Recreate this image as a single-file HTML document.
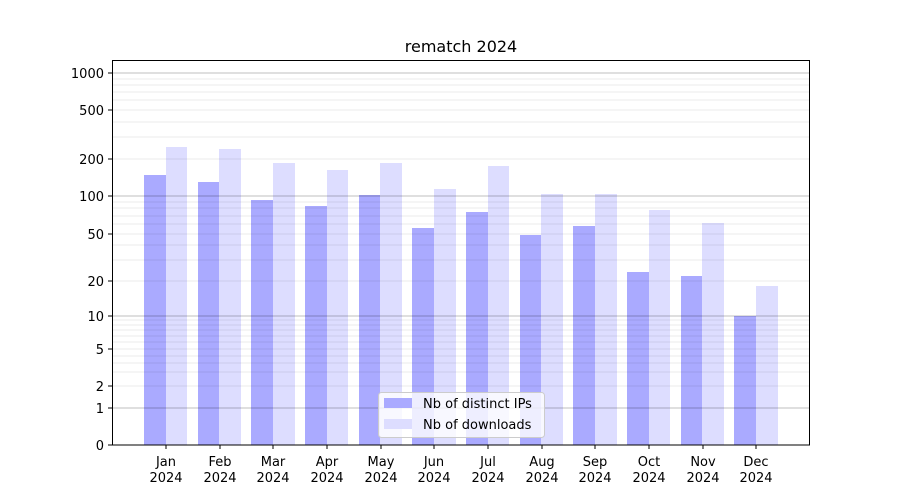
<!DOCTYPE html>
<html><head><meta charset="utf-8"><style>body{margin:0;background:#fff}svg{display:block}text{font-family:"DejaVu Sans","Liberation Sans",sans-serif;fill:#000}</style></head><body>
<svg width="900" height="500" xmlns="http://www.w3.org/2000/svg">
<rect width="900" height="500" fill="#fff"/>
<text x="461" y="52" font-size="16" text-anchor="middle">rematch 2024</text>
<g fill="#aaaaff">
<rect x="144" y="175" width="22" height="270"/><rect x="198" y="182" width="21" height="263"/><rect x="251" y="200" width="22" height="245"/><rect x="305" y="206" width="22" height="239"/><rect x="359" y="195" width="21" height="250"/><rect x="412" y="228" width="22" height="217"/><rect x="466" y="212" width="22" height="233"/><rect x="520" y="235" width="21" height="210"/><rect x="573" y="226" width="22" height="219"/><rect x="627" y="272" width="22" height="173"/><rect x="681" y="276" width="21" height="169"/><rect x="734" y="316" width="22" height="129"/>
</g>
<g fill="#ddddff">
<rect x="166" y="147" width="21" height="298"/><rect x="219" y="149" width="22" height="296"/><rect x="273" y="163" width="22" height="282"/><rect x="327" y="170" width="21" height="275"/><rect x="380" y="163" width="22" height="282"/><rect x="434" y="189" width="22" height="256"/><rect x="488" y="166" width="21" height="279"/><rect x="541" y="194" width="22" height="251"/><rect x="595" y="194" width="22" height="251"/><rect x="649" y="210" width="21" height="235"/><rect x="702" y="223" width="22" height="222"/><rect x="756" y="286" width="22" height="159"/>
</g>
<g stroke="#000" stroke-opacity="0.08" stroke-width="1">
<line x1="112" x2="810" y1="372" y2="372"/><line x1="112" x2="810" y1="363" y2="363"/><line x1="112" x2="810" y1="356" y2="356"/><line x1="112" x2="810" y1="342" y2="342"/><line x1="112" x2="810" y1="336" y2="336"/><line x1="112" x2="810" y1="330" y2="330"/><line x1="112" x2="810" y1="325" y2="325"/><line x1="112" x2="810" y1="320" y2="320"/>
<line x1="112" x2="810" y1="260" y2="260"/><line x1="112" x2="810" y1="245" y2="245"/><line x1="112" x2="810" y1="224" y2="224"/><line x1="112" x2="810" y1="216" y2="216"/><line x1="112" x2="810" y1="208" y2="208"/><line x1="112" x2="810" y1="202" y2="202"/>
<line x1="112" x2="810" y1="137" y2="137"/><line x1="112" x2="810" y1="122" y2="122"/><line x1="112" x2="810" y1="100" y2="100"/><line x1="112" x2="810" y1="92" y2="92"/><line x1="112" x2="810" y1="85" y2="85"/><line x1="112" x2="810" y1="79" y2="79"/>
<line x1="112" x2="810" y1="386" y2="386"/><line x1="112" x2="810" y1="349" y2="349"/><line x1="112" x2="810" y1="281" y2="281"/><line x1="112" x2="810" y1="234" y2="234"/><line x1="112" x2="810" y1="159" y2="159"/><line x1="112" x2="810" y1="110" y2="110"/>
</g>
<g stroke="#000" stroke-opacity="0.25" stroke-width="1">
<line x1="112" x2="810" y1="408" y2="408"/><line x1="112" x2="810" y1="316" y2="316"/><line x1="112" x2="810" y1="196" y2="196"/><line x1="112" x2="810" y1="73" y2="73"/>
</g>
<rect x="112.5" y="60.5" width="697" height="384.5" fill="none" stroke="#000" stroke-width="1"/>
<g stroke="#000"><line x1="108" x2="112" y1="445" y2="445"/><line x1="108" x2="112" y1="408" y2="408"/><line x1="108" x2="112" y1="386" y2="386"/><line x1="108" x2="112" y1="349" y2="349"/><line x1="108" x2="112" y1="316" y2="316"/><line x1="108" x2="112" y1="281" y2="281"/><line x1="108" x2="112" y1="234" y2="234"/><line x1="108" x2="112" y1="196" y2="196"/><line x1="108" x2="112" y1="159" y2="159"/><line x1="108" x2="112" y1="110" y2="110"/><line x1="108" x2="112" y1="73" y2="73"/></g>
<g font-size="13" text-anchor="end">
<text x="104" y="450">0</text><text x="104" y="413">1</text><text x="104" y="391">2</text><text x="104" y="354">5</text><text x="104" y="321">10</text><text x="104" y="286">20</text><text x="104" y="239">50</text><text x="104" y="201">100</text><text x="104" y="164">200</text><text x="104" y="115">500</text><text x="104" y="78">1000</text>
</g>
<g stroke="#000">
<line x1="166" x2="166" y1="445" y2="449"/><line x1="220" x2="220" y1="445" y2="449"/><line x1="273" x2="273" y1="445" y2="449"/><line x1="327" x2="327" y1="445" y2="449"/><line x1="381" x2="381" y1="445" y2="449"/><line x1="434" x2="434" y1="445" y2="449"/><line x1="488" x2="488" y1="445" y2="449"/><line x1="542" x2="542" y1="445" y2="449"/><line x1="595" x2="595" y1="445" y2="449"/><line x1="649" x2="649" y1="445" y2="449"/><line x1="703" x2="703" y1="445" y2="449"/><line x1="756" x2="756" y1="445" y2="449"/>
</g>
<g font-size="13" text-anchor="middle">
<text x="166" y="466">Jan</text><text x="166" y="482">2024</text>
<text x="220" y="466">Feb</text><text x="220" y="482">2024</text>
<text x="273" y="466">Mar</text><text x="273" y="482">2024</text>
<text x="327" y="466">Apr</text><text x="327" y="482">2024</text>
<text x="381" y="466">May</text><text x="381" y="482">2024</text>
<text x="434" y="466">Jun</text><text x="434" y="482">2024</text>
<text x="488" y="466">Jul</text><text x="488" y="482">2024</text>
<text x="542" y="466">Aug</text><text x="542" y="482">2024</text>
<text x="595" y="466">Sep</text><text x="595" y="482">2024</text>
<text x="649" y="466">Oct</text><text x="649" y="482">2024</text>
<text x="703" y="466">Nov</text><text x="703" y="482">2024</text>
<text x="756" y="466">Dec</text><text x="756" y="482">2024</text>
</g>
<rect x="378.5" y="392.5" width="166" height="45" rx="3" fill="#fff" fill-opacity="0.8" stroke="#cccccc"/>
<rect x="384" y="398" width="28" height="10" fill="#aaaaff"/>
<rect x="384" y="419" width="28" height="10" fill="#ddddff"/>
<text x="423" y="408" font-size="13">Nb of distinct IPs</text>
<text x="423" y="429" font-size="13">Nb of downloads</text>
</svg>
</body></html>
